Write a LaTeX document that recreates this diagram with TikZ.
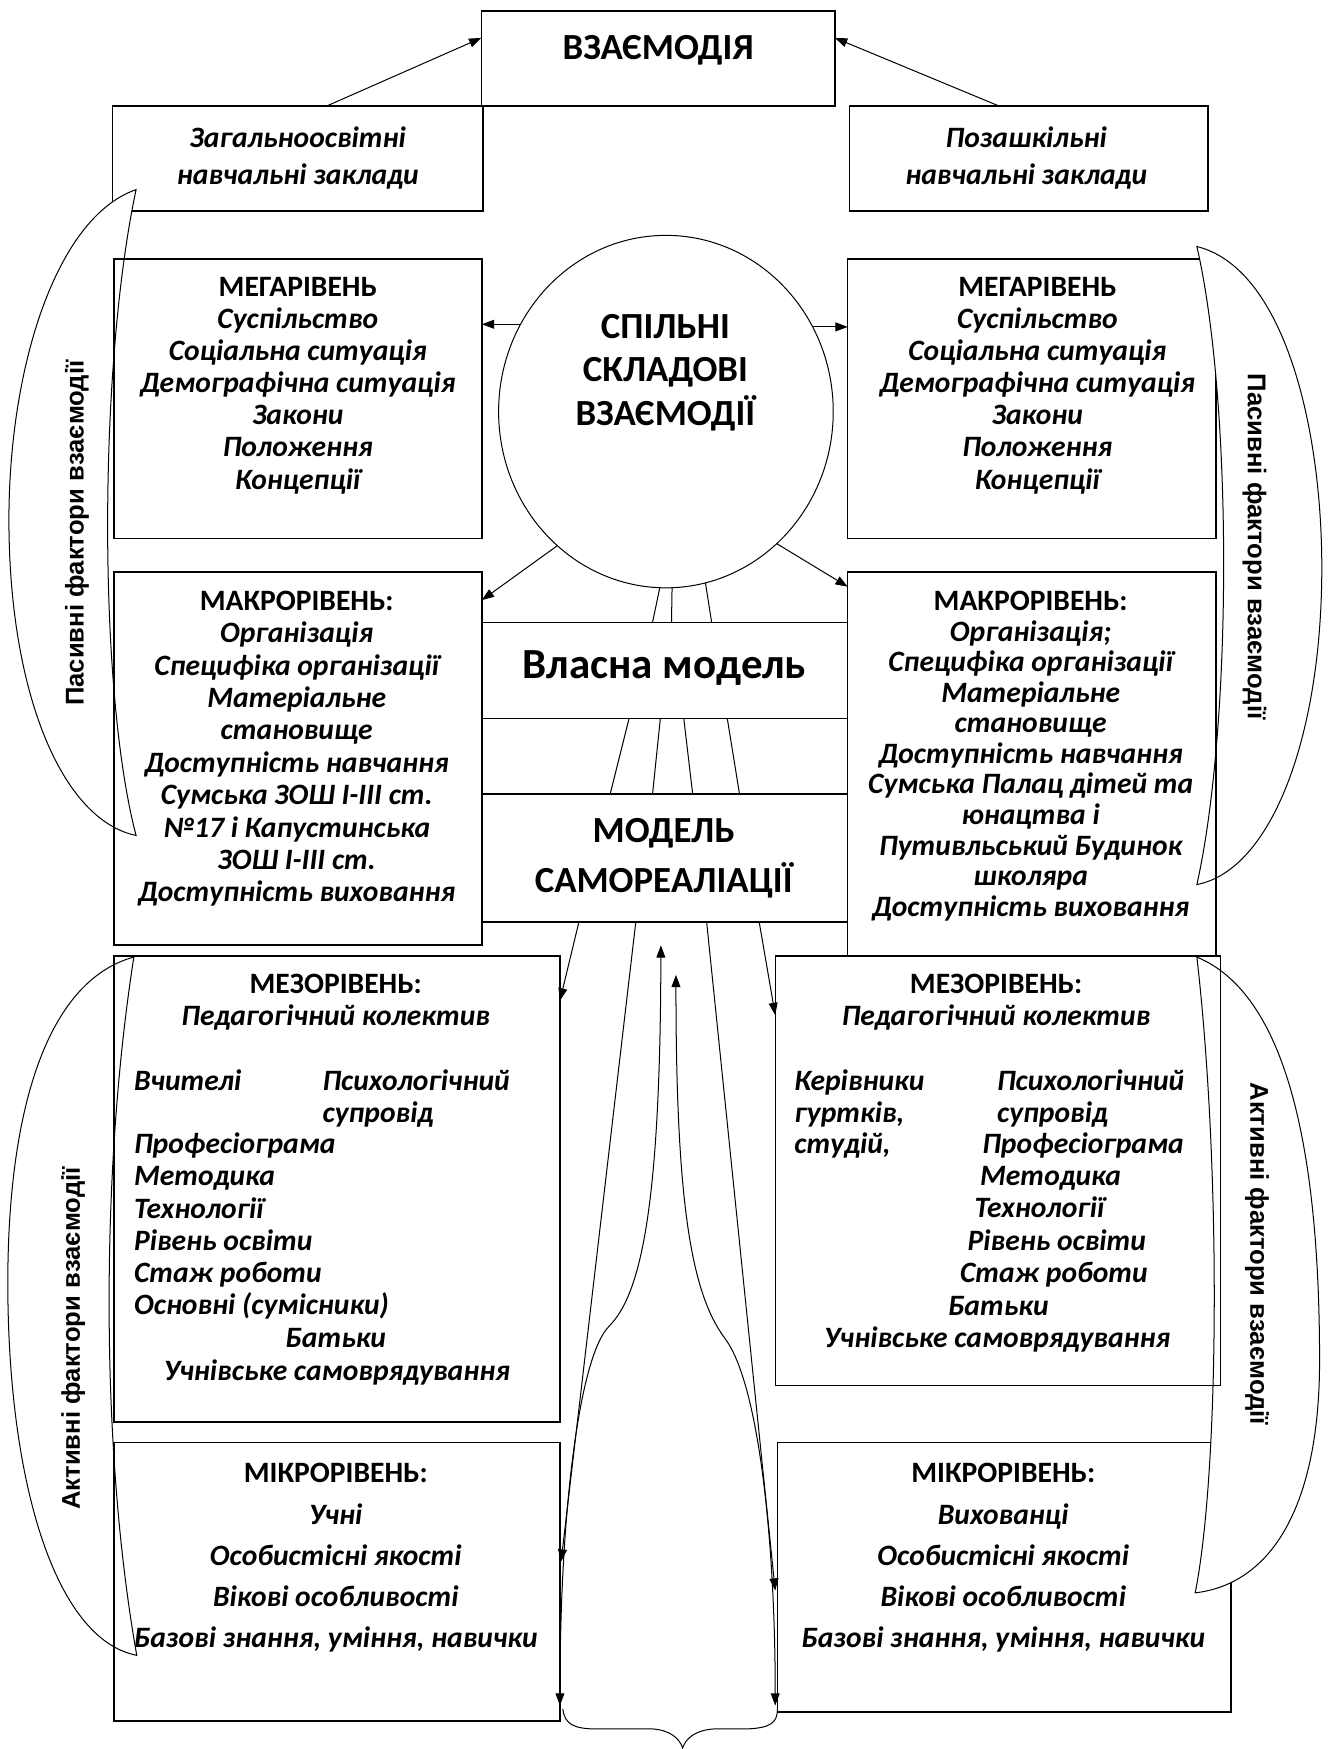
\documentclass[tikz,border=0pt]{standalone}
\usepackage{fontspec}
\setmainfont{Carlito}
\newfontfamily\arialf{Liberation Sans}
\usetikzlibrary{shapes.geometric,arrows.meta,calc}
\begin{document}
\begin{tikzpicture}[x=1pt,y=-1pt,
  box/.style={draw, line width=1.3pt, inner sep=0pt, outer sep=0pt, anchor=north west},
  thinl/.style={line width=0.9pt},
  arr/.style={thinl, -{Triangle[length=11pt,width=8pt]}},
  darr/.style={thinl, {Triangle[length=11pt,width=8pt]}-{Triangle[length=11pt,width=8pt]}},
  arcst/.style={draw, fill=white, line width=0.9pt},
  bi/.style={font=\fontsize{26.5}{28}\selectfont\bfseries\itshape, inner sep=0pt, anchor=mid, yshift=-7pt},
  biw/.style={bi, anchor=mid west},
  bh/.style={font=\fontsize{26.5}{28}\selectfont\bfseries, inner sep=0pt, anchor=mid, yshift=-7pt},
  big/.style={font=\fontsize{33}{36}\selectfont\bfseries, inner sep=0pt, anchor=mid, yshift=-9pt},
  side/.style={font=\arialf\fontsize{23}{25}\selectfont\bfseries, inner sep=0pt, anchor=center}]

\useasboundingbox (0,0) rectangle (1190,1568);
\fill[white] (0,0) rectangle (1190,1568);

% boxes lying under the side arcs
\node[box, minimum width=332, minimum height=94] (zag) at (101,95) {};
\node[box, minimum width=330, minimum height=251] (megaR) at (760,232) {};
\node[box, minimum width=406.6, minimum height=242] (micR) at (697,1293) {};

% side arcs
\draw[arcst] (122,170) .. controls (50,195) and (8,330) .. (8,466)
  .. controls (8,620) and (55,735) .. (122,749)
  .. controls (88,620) and (88,330) .. (122,170) -- cycle;
\draw[arcst] (1073,221) .. controls (1150,240) and (1185,380) .. (1185,509)
  .. controls (1185,660) and (1140,780) .. (1073,793)
  .. controls (1105,650) and (1105,360) .. (1073,221) -- cycle;
\draw[arcst] (120,858) .. controls (40,880) and (7,1000) .. (7,1150)
  .. controls (7,1330) and (50,1470) .. (122.6,1484)
  .. controls (90,1300) and (90,1050) .. (120,858) -- cycle;
\draw[arcst] (1073,858) .. controls (1150,890) and (1183,1020) .. (1183,1220)
  .. controls (1183,1350) and (1140,1420) .. (1071.5,1428)
  .. controls (1093,1320) and (1095,1050) .. (1073,858) -- cycle;

% other boxes
\node[box, minimum width=317, minimum height=85] (vz) at (431.5,10) {};
\node[box, minimum width=321.5, minimum height=94] (poz) at (761.5,95) {};
\node[box, minimum width=330, minimum height=251] (megaL) at (102,232) {};
\node[box, minimum width=330, minimum height=334] (macL) at (102,513) {};
\node[box, minimum width=330, minimum height=344] (macR) at (760,513) {};
\node[box, minimum width=328, minimum height=86] (vlas) at (432,558) {};
\node[box, minimum width=328, minimum height=114.5] (model) at (432,712) {};
\node[box, minimum width=400, minimum height=418] (mesoL) at (102,857) {};
\node[box, minimum width=399, minimum height=385] (mesoR) at (695,857) {};
\node[box, minimum width=400, minimum height=250] (micL) at (102,1293) {};
\node[draw, ellipse, line width=0.9pt, minimum width=300, minimum height=316, inner sep=0pt, outer sep=0pt] (circ) at (597,369) {};

% connectors
\draw[arr] ($(zag.north west)+(192,0)$) -- ($(vz.north west)+(0,24)$);
\draw[arr] ($(poz.north west)+(134,0)$) -- ($(vz.north east)+(0,24)$);
\draw[arr] (circ.149.6) -- (circ.149.6 -| megaL.east);
\draw[arr] (circ.30.4) -- (circ.30.4 -| megaR.west);
\draw[arr] (circ.231.3) -- ($(macL.north east)+(0,25)$);
\draw[arr] (circ.310.2) -- ($(macR.north west)+(0,13)$);
\draw[thinl] (circ.268.2) -- ($(vlas.north)+(-11,0)$);
\draw[thinl] (circ.272.5) -- ($(vlas.north)+(6,0)$);
\draw[thinl] (circ.283.6) -- ($(vlas.north)+(42,0)$);
\draw[thinl] ($(vlas.south)+(-32,0)$) -- ($(model.north)+(-49,0)$);
\draw[thinl] ($(vlas.south)+(-4,0)$) -- ($(model.north)+(-11,0)$);
\draw[thinl] ($(vlas.south)+(17,0)$) -- ($(model.north)+(25,0)$);
\draw[thinl] ($(vlas.south)+(56,0)$) -- ($(model.north)+(67,0)$);
\draw[arr] ($(model.south)+(-77,0)$) -- ($(mesoL.north east)+(0,40)$);
\draw[arr] ($(model.south)+(84.6,0)$) -- ($(mesoR.north west)+(0,53)$);
\draw[arr] ($(model.south)+(-26,0)$) -- ($(micL.north east)+(1,107)$);
\draw[arr] ($(model.south)+(37.5,0)$) -- ($(micR.north west)+(-2,133)$);
\coordinate (tipL) at (592.5,847.5);
\coordinate (tipR) at (606,874);
\draw[darr] (tipL) .. controls (592,1080) and (575,1160) .. (546,1189)
  .. controls (520,1215) and (502,1350) .. ($(micL.south east)+(0,-14)$);
\draw[darr] (tipR) .. controls (606,1080) and (620,1160) .. (650,1200)
  .. controls (680,1240) and (695,1380) .. ($(micR.south west)+(-2,-6)$);
\draw[thinl] ($(micL.south east)+(2.6,-11)$) .. controls (506,1546) and (515,1550) .. (535,1550)
  -- (585,1550) .. controls (600,1551) and (609,1558) .. (612,1567)
  .. controls (615,1558) and (624,1551) .. (640,1550) -- (670,1550)
  .. controls (690,1549) and (697,1545) .. ($(micR.south west)+(0,-3)$);

% texts
\node[big] (tvz) at (590,42) {ВЗАЄМОДІЯ};
\node[bi] (tz1) at (267,122.6) {Загальноосвітні};
\node[bi] (tz2) at (267,156.3) {навчальні заклади};
\node[bi] (tp1) at (920,122.6) {Позашкільні};
\node[bi] (tp2) at (920,156.3) {навчальні заклади};
\node[big] (c1) at (596.5,292) {СПІЛЬНІ};
\node[big] (c2) at (596.5,331) {СКЛАДОВІ};
\node[big] (c3) at (596.5,370.4) {ВЗАЄМОДІЇ};
\node[big, font=\fontsize{38.5}{40}\selectfont\bfseries, yshift=-2pt] (tvl) at (595.5,594.6) {Власна модель};
\node[big] (tm1) at (595,744.3) {МОДЕЛЬ};
\node[big] (tm2) at (595,789) {САМОРЕАЛІАЦІЇ};

\node[bh] (mgLh) at (267,256.3) {МЕГАРІВЕНЬ};
\foreach \s [count=\i] in {Суспільство,Соціальна ситуація,Демографічна ситуація,Закони,Положення,Концепції}
  \node[bi] (mgL\i) at (267,{256.3+28.8*\i}) {\s};
\node[bh] (mgRh) at (930,256.3) {МЕГАРІВЕНЬ};
\foreach \s [count=\i] in {Суспільство,Соціальна ситуація,Демографічна ситуація,Закони,Положення,Концепції}
  \node[bi] (mgR\i) at (930,{256.3+28.8*\i}) {\s};

\node[bh] (mcLh) at (266,538) {МАКРОРІВЕНЬ:};
\foreach \s [count=\i] in {Організація,Специфіка організації,Матеріальне,становище,Доступність навчання,Сумська ЗОШ І-ІІІ ст.,№17 і Капустинська,ЗОШ І-ІІІ ст.,Доступність виховання}
  \node[bi] (mcL\i) at (266,{538+29*\i}) {\s};
\node[bh] (mcRh) at (924,538) {МАКРОРІВЕНЬ:};
\foreach \s [count=\i] in {{Організація;},Специфіка організації,Матеріальне,становище,Доступність навчання,Сумська Палац дітей та,юнацтва і,Путивльський Будинок,школяра,Доступність виховання}
  \node[bi] (mcR\i) at (924,{538+27.4*\i}) {\s};

\node[bh] (msLh) at (301,881.7) {МЕЗОРІВЕНЬ:};
\node[bi] (msL0) at (301,910) {Педагогічний колектив};
\node[biw] (msL1) at (120,968.5) {Вчителі};
\node[biw] (msL2) at (289,968.5) {Психологічний};
\node[biw] (msL3) at (289,997) {супровід};
\foreach \s [count=\i from 4] in {Професіограма,Методика,Технології,Рівень освіти,Стаж роботи,Основні (сумісники)}
  \node[biw] (msL\i) at (120,{1025+28.8*(\i-4)}) {\s};
\node[bi] (msL10) at (301,1198.7) {Батьки};
\node[bi] (msL11) at (302,1228.6) {Учнівське самоврядування};

\node[bh] (msRh) at (893,881.7) {МЕЗОРІВЕНЬ:};
\node[bi] (msR0) at (893,910) {Педагогічний колектив};
\node[biw] (msR1) at (712,968.5) {Керівники};
\node[biw] (msR2) at (712,997) {гуртків,};
\node[biw] (msR3) at (712,1025) {студій,};
\node[biw] (msR4) at (893.7,968.5) {Психологічний};
\node[biw] (msR5) at (893.7,997) {супровід};
\node[biw] (msR6) at (880.5,1025) {Професіограма};
\node[biw] (msR7) at (878.5,1053.7) {Методика};
\node[biw] (msR8) at (873.6,1082) {Технології};
\node[biw] (msR9) at (867.3,1112) {Рівень освіти};
\node[biw] (msR10) at (860.5,1140) {Стаж роботи};
\node[biw] (msR11) at (849.7,1170) {Батьки};
\node[bi] (msR12) at (894,1198.7) {Учнівське самоврядування};

\node[bh] (miLh) at (301,1320) {МІКРОРІВЕНЬ:};
\foreach \s [count=\i] in {Учні,Особистісні якості,Вікові особливості,{Базові знання, уміння, навички}}
  \node[bi] (miL\i) at (301,{1320+37*\i}) {\s};
\node[bh] (miRh) at (899.4,1320) {МІКРОРІВЕНЬ:};
\foreach \s [count=\i] in {Вихованці,Особистісні якості,Вікові особливості,{Базові знання, уміння, навички}}
  \node[bi] (miR\i) at (899.4,{1320+37*\i}) {\s};

\node[side, rotate=90] (sp1) at (69,478) {Пасивні фактори взаємодії};
\node[side, rotate=-90] (sp2) at (1124.6,490) {Пасивні фактори взаємодії};
\node[side, rotate=90] (sa1) at (65.7,1200) {Активні фактори взаємодії};
\node[side, rotate=-90] (sa2) at (1126.8,1124) {Активні фактори взаємодії};
\end{tikzpicture}
\end{document}
